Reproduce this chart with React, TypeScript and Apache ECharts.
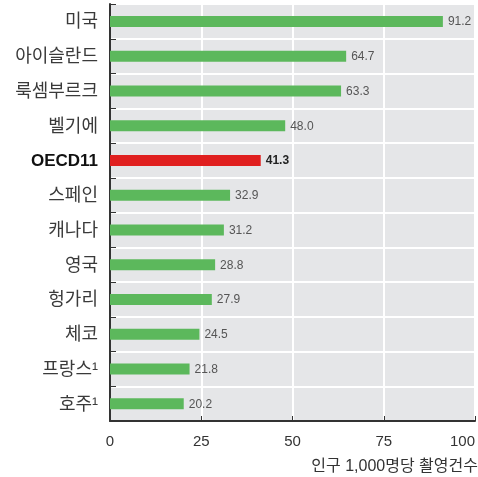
import React, { useEffect, useRef } from "react";
import * as echarts from "echarts";

const categories = ["미국", "아이슬란드", "룩셈부르크", "벨기에", "OECD11", "스페인", "캐나다", "영국", "헝가리", "체코", "프랑스¹", "호주¹"];
const values = [91.2, 64.7, 63.3, 48.0, 41.3, 32.9, 31.2, 28.8, 27.9, 24.5, 21.8, 20.2];
const highlight = "OECD11";
const xTicks = [0, 25, 50, 75, 100];
const axisTitle = "인구 1,000명당 촬영건수";

const KR = '"Liberation Sans", Arial, "Noto Sans CJK KR", sans-serif';

export default function App() {
  const ref = useRef<HTMLDivElement>(null);
  useEffect(() => {
    if (!ref.current) return;
    const chart = echarts.init(ref.current, undefined, { renderer: "svg" });
    chart.setOption({
      animation: false,
      grid: {
        left: 110,
        right: 0,
        top: 4,
        bottom: 56,
        show: true,
        backgroundColor: "#e5e6e8",
        borderWidth: 0,
      },
      xAxis: {
        type: "value",
        min: xTicks[0],
        max: xTicks[xTicks.length - 1],
        interval: 25,
        axisLine: { show: true, lineStyle: { color: "#333", width: 2 } },
        axisTick: { show: true, inside: true, length: 5, lineStyle: { color: "#333", width: 1 } },
        axisLabel: {
          color: "#333",
          fontSize: 15,
          fontFamily: KR,
          margin: 12,
          alignMaxLabel: "right",
        },
        splitLine: { show: true, lineStyle: { color: "#ffffff", width: 2 } },
      },
      yAxis: {
        type: "category",
        data: categories,
        inverse: true,
        axisLine: { show: true, lineStyle: { color: "#333", width: 2 } },
        axisTick: { show: true, inside: true, length: 6, lineStyle: { color: "#333", width: 1 } },
        axisLabel: {
          margin: 12,
          fontSize: 18,
          fontFamily: KR,
          color: "#3a3a3a",
          formatter: (v: string) => (v === highlight ? "{b|" + v + "}" : v),
          rich: {
            b: { fontSize: 17, fontWeight: "bold", color: "#111", fontFamily: KR },
          },
        },
        splitLine: { show: true, lineStyle: { color: "#ffffff", width: 2 } },
      },
      series: [
        {
          type: "bar",
          barWidth: 11,
          data: values.map((v, i) => {
            const hl = categories[i] === highlight;
            return {
              value: v,
              itemStyle: { color: hl ? "#e01f1f" : "#5cb85c" },
              label: hl ? { fontWeight: "bold", color: "#222" } : undefined,
            };
          }),
          label: {
            show: true,
            position: "right",
            distance: 5,
            fontSize: 12,
            fontFamily: KR,
            color: "#555",
            formatter: (p: any) => Number(p.value).toFixed(1),
          },
        },
      ],
      graphic: [
        {
          type: "text",
          right: 0,
          top: 457,
          style: { text: axisTitle, fontSize: 16, fontFamily: KR, fill: "#333" },
        },
      ],
    });
    return () => chart.dispose();
  }, []);
  return <div ref={ref} style={{ width: 478, height: 477, position: "fixed", left: 0, top: 0 }} />;
}
